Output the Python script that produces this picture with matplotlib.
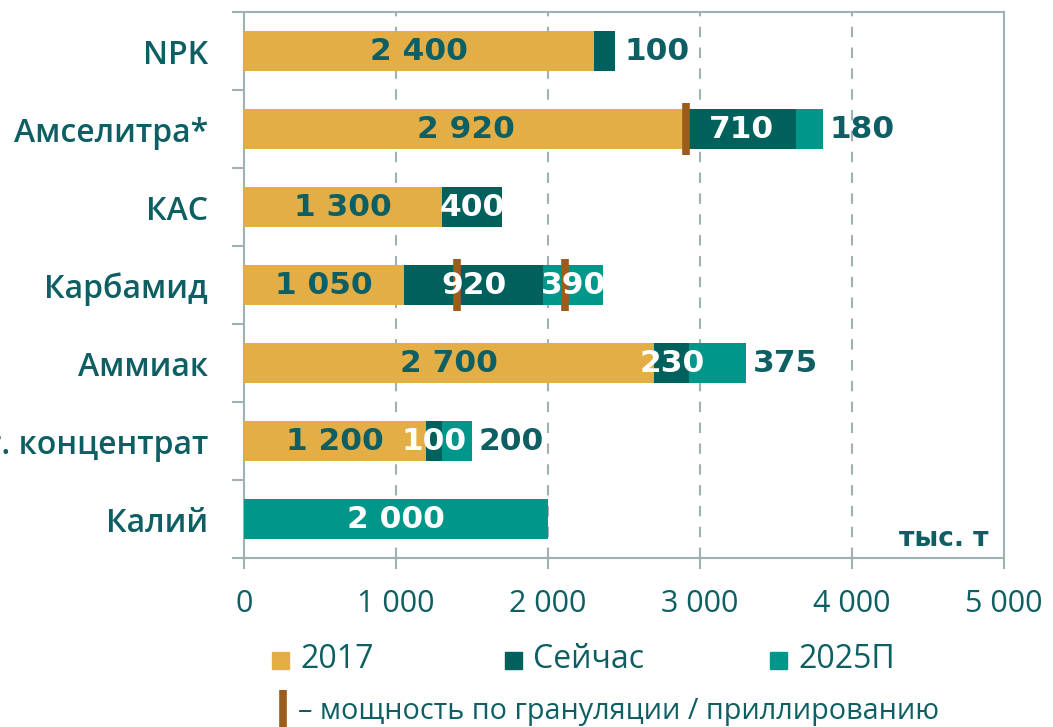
import matplotlib
matplotlib.use("Agg")
import matplotlib.pyplot as plt
from matplotlib.patches import Rectangle
from matplotlib.lines import Line2D
import numpy as np

# ---- data ----
categories = ['NPK', 'Амселитра*', 'КАС', 'Карбамид', 'Аммиак', 'Фосфат. концентрат', 'Калий']
vals_2017 = [2305, 2920, 1300, 1050, 2700, 1200, 0]
vals_now = [135, 710, 400, 920, 230, 100, 0]
vals_2025 = [0, 180, 0, 390, 375, 200, 2000]
labels_2017 = ['2 400', '2 920', '1 300', '1 050', '2 700', '1 200', '']
labels_now = ['100', '710', '400', '920', '230', '100', '']
labels_2025 = ['', '180', '', '390', '375', '200', '2 000']
# label inside the segment (True) or outside after bar end (False)
inside_now = [False, True, True, True, True, True, True]
inside_2025 = [True, False, True, True, False, False, True]
gran_cats = ['Амселитра*', 'Карбамид', 'Карбамид']
gran_vals = [2910, 1400, 2110]
xticks = [0, 1000, 2000, 3000, 4000, 5000]
xtick_labels = ['0', '1 000', '2 000', '3 000', '4 000', '5 000']
series_names = ['2017', 'Сейчас', '2025П']

C_YEL = '#E2AE45'
C_DARK = '#00605B'
C_TEAL = '#00968A'
C_BROWN = '#9C5D1C'
C_TXT = '#0D5F63'
C_GRID = '#9FB1B1'

FONT = ['Open Sans', 'DejaVu Sans']
BOLD = ['DejaVu Sans']
plt.rcParams['font.family'] = FONT

W, H = 1053, 727
fig = plt.figure(figsize=(W / 100, H / 100), dpi=100)
ax = fig.add_axes([244 / W, 1 - 558 / H, (1004 - 244) / W, (558 - 12) / H])

y = np.arange(len(categories))
bh = 0.51
v17 = np.array(vals_2017, float)
vn = np.array(vals_now, float)
v25 = np.array(vals_2025, float)
ax.barh(y, v17, height=bh, color=C_YEL, zorder=3)
ax.barh(y, vn, left=v17, height=bh, color=C_DARK, zorder=3)
ax.barh(y, v25, left=v17 + vn, height=bh, color=C_TEAL, zorder=3)

# granulation markers
for c, v in zip(gran_cats, gran_vals):
    yi = categories.index(c)
    ax.plot([v, v], [yi - 0.33, yi + 0.33], color=C_BROWN, lw=5.5,
            solid_capstyle='butt', zorder=5)

lab_kw = dict(fontsize=22.5, fontweight='bold', va='center', zorder=6, family=BOLD)
for i in range(len(categories)):
    if labels_2017[i]:
        ax.text(v17[i] / 2, y[i], labels_2017[i], ha='center', color=C_TXT, **lab_kw)
    tot = v17[i] + vn[i] + v25[i]
    if labels_now[i]:
        if inside_now[i]:
            ax.text(v17[i] + vn[i] / 2, y[i], labels_now[i], ha='center', color='white', **lab_kw)
        else:
            ax.text(tot + 60, y[i], labels_now[i], ha='left', color=C_TXT, **lab_kw)
    if labels_2025[i]:
        if inside_2025[i]:
            ax.text(v17[i] + vn[i] + v25[i] / 2, y[i], labels_2025[i], ha='center', color='white', **lab_kw)
        else:
            ax.text(tot + 40, y[i], labels_2025[i], ha='left', color=C_TXT, **lab_kw)

ax.set_xlim(0, 5000)
ax.set_ylim(len(categories) - 0.5, -0.5)
ax.set_xticks(xticks)
ax.set_xticklabels(xtick_labels, fontsize=22, color=C_TXT)
ax.set_yticks(y)
ax.set_yticklabels(categories, fontsize=23, color=C_TXT, fontweight='semibold')
ax.set_yticks(np.arange(-0.5, len(categories)), minor=True)
ax.tick_params(axis='y', which='major', length=0, pad=26)
ax.tick_params(axis='y', which='minor', length=9, width=1.5, color=C_GRID, direction='out')
ax.tick_params(axis='x', which='major', length=8, width=1.5, color=C_GRID, pad=14)
for x in xticks[1:-1]:
    ax.axvline(x, color=C_GRID, lw=1.5, ls=(0, (5, 5)), zorder=1)
for s in ax.spines.values():
    s.set_color(C_GRID)
    s.set_linewidth(1.5)

ax.text(0.98, 0.035, 'тыс. т', transform=ax.transAxes, ha='right', va='center',
        fontsize=19, fontweight='bold', color=C_TXT, family=BOLD)

# legend (manual)
leg_font = ['Open Sans', 'DejaVu Sans']
leg_items = [(272, C_YEL), (505, C_DARK), (770, C_TEAL)]
for (xp, col), name in zip(leg_items, series_names):
    fig.add_artist(Rectangle((xp / W, 1 - 669 / H), 17 / W, 17 / H,
                             transform=fig.transFigure, color=col))
    fig.text((xp + 28) / W, 1 - 660 / H, name, ha='left', va='center',
             fontsize=23, color=C_TXT, family=leg_font)
fig.add_artist(Line2D([283 / W, 283 / W], [1 - 690 / H, 1 - 727 / H],
                      transform=fig.transFigure, color=C_BROWN, lw=5.5,
                      solid_capstyle='butt'))
fig.text(298 / W, 1 - 712 / H, '– мощность по грануляции / приллированию',
         ha='left', va='center', fontsize=20.7, color=C_TXT, family=leg_font)

fig.savefig('out.png', dpi=100)
